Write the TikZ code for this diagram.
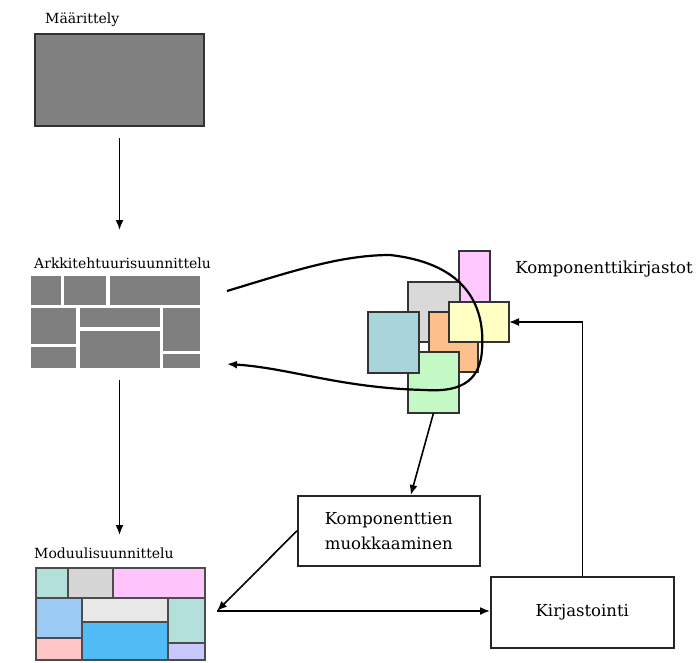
\documentclass[tikz,border=0pt]{standalone}
\usepackage{fontspec}
\setmainfont{DejaVu Serif}
\usetikzlibrary{arrows.meta,calc}
\definecolor{defgray}{HTML}{808080}
\definecolor{archgray}{HTML}{7F7F7F}
\definecolor{mteal}{HTML}{B4E0DC}
\definecolor{mlgray}{HTML}{D6D6D6}
\definecolor{mpink}{HTML}{FFC4FC}
\definecolor{mlblue}{HTML}{9CCBF5}
\definecolor{mlgray2}{HTML}{E8E8E8}
\definecolor{mblue}{HTML}{50BCF5}
\definecolor{mrose}{HTML}{FFC6C8}
\definecolor{mlav}{HTML}{C8C8FC}
\definecolor{cpink}{HTML}{FFC8FF}
\definecolor{cgray}{HTML}{D9D9D9}
\definecolor{corange}{HTML}{FCC08C}
\definecolor{cgreen}{HTML}{C4F8C4}
\definecolor{cteal}{HTML}{A8D4DC}
\definecolor{cyellow}{HTML}{FFFFC4}
\begin{document}
\begin{tikzpicture}[x=1pt,y=-1pt,
  blk/.style={draw=black!80, line width=1.4pt, inner sep=0pt, outer sep=0pt, anchor=north west},
  cell/.style={draw=black!70, line width=1.4pt},
  arr/.style={line width=1.6pt, -{Latex[length=10pt,width=8pt]}},
  lbl/.style={font=\fontsize{14}{16}\selectfont, inner sep=0pt, anchor=west},
  txt/.style={font=\fontsize{16.5}{25}\selectfont, align=center},
  box/.style={draw=black!85, line width=1.6pt, inner sep=0pt, anchor=north west}]
\useasboundingbox (0,0) rectangle (699,662);

% Maarittely
\node[lbl] (deflbl) at (45,20) {Määrittely};
\node[blk, fill=defgray, minimum width=169pt, minimum height=92pt] (def) at (35,34) {};

% Arkkitehtuurisuunnittelu
\node[lbl] (archlbl) at (34,263) {Arkkitehtuurisuunnittelu};
\node[inner sep=0pt, outer sep=0pt, anchor=north west, minimum width=169pt, minimum height=92pt] (arch) at (31,276) {};
\fill[archgray] (31,276) rectangle (61,305);
\fill[archgray] (64,276) rectangle (106,305);
\fill[archgray] (110,276) rectangle (200,305);
\fill[archgray] (31,308) rectangle (76,344);
\fill[archgray] (31,347) rectangle (76,368);
\fill[archgray] (80,308) rectangle (160,327);
\fill[archgray] (80,331) rectangle (160,368);
\fill[archgray] (163,308) rectangle (200,351);
\fill[archgray] (163,354) rectangle (200,368);

% Moduulisuunnittelu
\node[lbl] (modlbl) at (34,553) {Moduulisuunnittelu};
\node[blk, minimum width=169pt, minimum height=92pt] (mod) at (36,568) {};
\filldraw[cell, fill=mteal] (36,568) rectangle (68,598);
\filldraw[cell, fill=mlgray] (68,568) rectangle (113,598);
\filldraw[cell, fill=mpink] (113,568) rectangle (205,598);
\filldraw[cell, fill=mlblue] (36,598) rectangle (82,638);
\filldraw[cell, fill=mrose] (36,638) rectangle (82,660);
\filldraw[cell, fill=mlgray2] (82,598) rectangle (168,622);
\filldraw[cell, fill=mblue] (82,622) rectangle (168,660);
\filldraw[cell, fill=mteal] (168,598) rectangle (205,643);
\filldraw[cell, fill=mlav] (168,643) rectangle (205,660);

% Component libraries
\node[blk, fill=cpink, minimum width=31pt, minimum height=51pt] (pk) at (459,251) {};
\node[blk, fill=cgray, minimum width=52pt, minimum height=60pt] (gy) at (408,282) {};
\node[blk, fill=corange, minimum width=49pt, minimum height=60pt] (og) at (429,312) {};
\node[blk, fill=cgreen, minimum width=51pt, minimum height=61pt] (gn) at (408,352) {};
\node[blk, fill=cteal, minimum width=51pt, minimum height=61pt] (tl) at (368,312) {};
\node[blk, fill=cyellow, minimum width=60pt, minimum height=40pt] (yl) at (449,302) {};
\node[txt, anchor=center] (kklbl) at (604,269) {Komponenttikirjastot};

% loop curve
\coordinate (cs) at ($(arch.north east)+(27,15)$);
\coordinate (ce) at ($(arch.north east)+(27,88)$);
\draw[arr, line width=2.2pt] (cs) .. controls (290,272) and (340,255) .. (390,255)
  .. controls (470,264) and (485,310) .. (482,350)
  .. controls (480,385) and (455,392) .. (425,390)
  .. controls (340,388) and (290,368) .. (ce);

% boxes
\node[box, minimum width=182pt, minimum height=70pt] (komp) at (297,495) {};
\node[txt] at (komp.center) {Komponenttien\\muokkaaminen};
\node[box, minimum width=183pt, minimum height=71pt] (kir) at (490,576) {};
\node[txt] at (kir.center) {Kirjastointi};

% arrows
\draw[arr] ($(def.south)+(0,12)$) -- ($(def.south)+(0,104)$);
\draw[arr] ($(arch.south)+(4,12)$) -- ($(arch.south)+(4,167)$);
\draw[arr] (gn.south) -- ($(komp.north)+(22,0)$);
\coordinate (mj) at ($(mod.east)+(12,-3)$);
\draw[arr] (komp.west) -- (mj);
\draw[arr] (mj) -- (kir.west |- mj);
\draw[arr] (kir.north) |- (yl.east);
\end{tikzpicture}
\end{document}
